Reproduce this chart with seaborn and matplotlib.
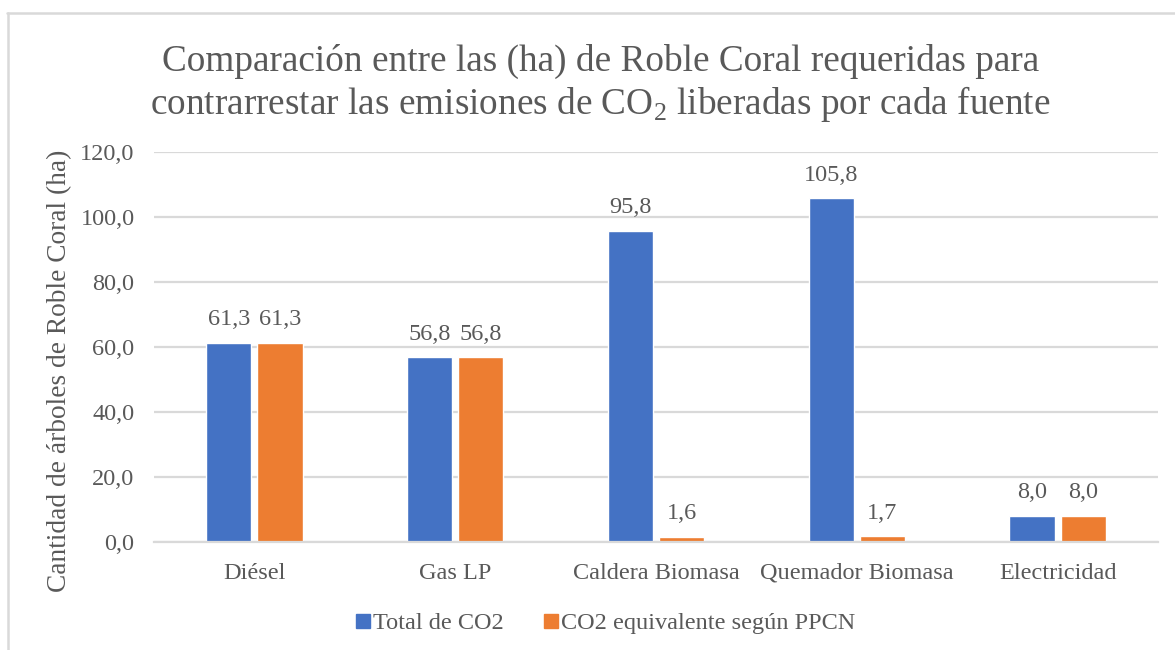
import matplotlib
matplotlib.use("Agg")
import matplotlib.pyplot as plt
from matplotlib.lines import Line2D
import seaborn as sns
import pandas as pd

categories = ["Diésel", "Gas LP", "Caldera Biomasa", "Quemador Biomasa", "Electricidad"]
series_names = ["Total de CO2", "CO2 equivalente según PPCN"]
total_co2 = [61.3, 56.8, 95.8, 105.8, 8.0]
co2_ppcn = [61.3, 56.8, 1.6, 1.7, 8.0]
y_ticks = [0, 20, 40, 60, 80, 100, 120]

df = pd.DataFrame({
    "fuente": categories * 2,
    "serie": [series_names[0]] * len(categories) + [series_names[1]] * len(categories),
    "valor": total_co2 + co2_ppcn,
})

sns.set_theme(style="white")
plt.rcParams["font.family"] = ["Liberation Serif", "DejaVu Serif"]
plt.rcParams["mathtext.fontset"] = "custom"
plt.rcParams["mathtext.rm"] = "Liberation Serif"

text_color = "#595959"
grid_color = "#D9D9D9"
palette = {series_names[0]: "#4472C4", series_names[1]: "#ED7D31"}
fs = 17.5

fig = plt.figure(figsize=(11.75, 6.5), dpi=100)
ax = fig.add_axes([154 / 1175, 1 - 542 / 650, (1158 - 154) / 1175, (542 - 152) / 650])

sns.barplot(data=df, x="fuente", y="valor", hue="serie", order=categories,
            hue_order=series_names, palette=palette, width=0.51, gap=0.12,
            saturation=1, ax=ax, legend=False, errorbar=None)

ax.set_ylim(0, 120)
ax.set_yticks(y_ticks)
ax.set_yticklabels([f"{v:.1f}".replace(".", ",") for v in y_ticks])
ax.set_xlim(-0.5, len(categories) - 0.5)
ax.yaxis.grid(True, color=grid_color, linewidth=1.6)
ax.set_axisbelow(True)
for side in ["top", "right", "left"]:
    ax.spines[side].set_visible(False)
ax.spines["bottom"].set_color(grid_color)
ax.spines["bottom"].set_linewidth(1.6)
ax.tick_params(axis="both", length=0, labelsize=fs, colors=text_color)
ax.tick_params(axis="y", pad=14)
ax.tick_params(axis="x", pad=15)
ax.set_xlabel("")
ax.set_ylabel("Cantidad de árboles de Roble Coral (ha)", fontsize=19.7, color=text_color)
ax.yaxis.set_label_coords((72 - 154) / 1004, (542 - 371) / 390)

for container in ax.containers:
    ax.bar_label(container, labels=[f"{b.get_height():.1f}".replace(".", ",") for b in container],
                 padding=9, fontsize=fs, color=text_color)

fig.text(0.511, 1 - 84 / 650,
         "Comparación entre las (ha) de Roble Coral requeridas para\n"
         "contrarrestar las emisiones de CO$_{\\mathregular{2}}$ liberadas por cada fuente",
         ha="center", va="center", fontsize=26.8, color=text_color, linespacing=1.14)

handles = [Line2D([0], [0], marker="s", linestyle="", markersize=10,
                  markerfacecolor=palette[n], markeredgecolor=palette[n]) for n in series_names]
fig.legend(handles, series_names, loc="center", bbox_to_anchor=(605 / 1175, 1 - 623 / 650),
           ncol=2, frameon=False, fontsize=fs, labelcolor=text_color,
           handletextpad=0.05, columnspacing=1.6, handlelength=0.7)

# outer chart frame (top and left edges)
fig.add_artist(Line2D([7 / 1175, 1.0], [1 - 13 / 650, 1 - 13 / 650],
                      transform=fig.transFigure, color=grid_color, linewidth=1.8))
fig.add_artist(Line2D([7.5 / 1175, 7.5 / 1175], [0.0, 1 - 13 / 650],
                      transform=fig.transFigure, color=grid_color, linewidth=1.8))

fig.savefig("out.png", dpi=100, facecolor="white")
